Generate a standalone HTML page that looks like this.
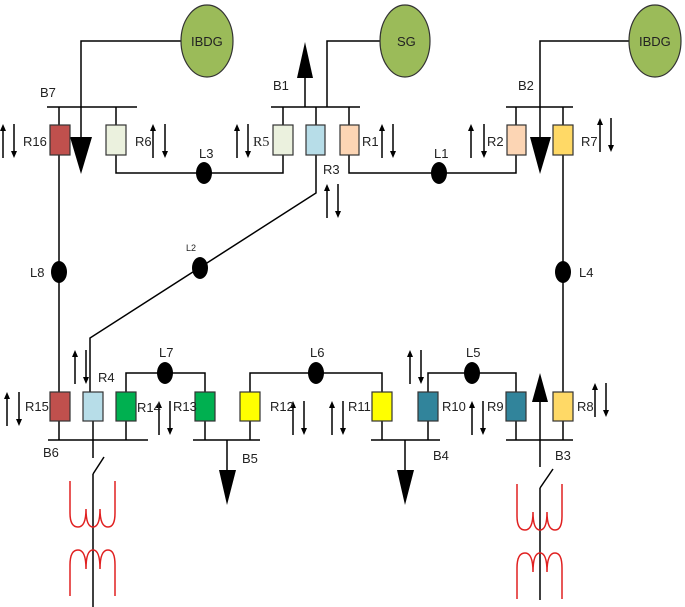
<!DOCTYPE html>
<html><head><meta charset="utf-8"><style>
html,body{margin:0;padding:0;background:#fff;}
svg{display:block;}
text{font-family:"Liberation Sans",sans-serif;font-size:13px;fill:#222;}
</style></head><body>
<svg width="685" height="607" viewBox="0 0 685 607" xmlns="http://www.w3.org/2000/svg">
<defs>
<g id="up"><line x1="0" y1="6" x2="0" y2="34" stroke="#000" stroke-width="1.5"/><polygon points="-3,7 3,7 0,0" fill="#000"/></g>
<g id="dn"><line x1="0" y1="0" x2="0" y2="28" stroke="#000" stroke-width="1.5"/><polygon points="-3,27 3,27 0,34" fill="#000"/></g>
<g id="coil" fill="none" stroke="#e02020" stroke-width="1.5">
<path d="M-23,0 V32 Q-23,46 -15,46 Q-7,46 -7,28 Q-7,46 0,46 Q7,46 7,28 Q7,46 15,46 Q22,46 22,32 V0"/>
<path d="M-23,115 V84 Q-23,69 -15,69 Q-7,69 -7,88 Q-7,69 0,69 Q7,69 7,88 Q7,69 15,69 Q22,69 22,84 V115"/>
</g>
</defs>
<g stroke="#000" stroke-width="1.5" fill="none">
<!-- top buses -->
<line x1="47" y1="107" x2="137" y2="107"/>
<line x1="271" y1="107" x2="360" y2="107"/>
<line x1="506" y1="107" x2="573" y2="107"/>
<!-- gen lines -->
<polyline points="181,41 81,41 81,140"/>
<polyline points="380,41 327,41 327,107"/>
<polyline points="629,41 540,41 540,140"/>
<line x1="305" y1="107" x2="305" y2="72"/>
<!-- stems top -->
<line x1="59" y1="107" x2="59" y2="392"/>
<line x1="116" y1="107" x2="116" y2="125"/>
<line x1="283" y1="107" x2="283" y2="125"/>
<line x1="316" y1="107" x2="316" y2="125"/>
<line x1="349" y1="107" x2="349" y2="125"/>
<line x1="516" y1="107" x2="516" y2="125"/>
<line x1="563" y1="107" x2="563" y2="392"/>
<polyline points="116,155 116,173 283,173 283,155"/>
<polyline points="349,155 349,173 516,173 516,155"/>
<polyline points="316,155 316,193 90,338 90,392"/>
<!-- bottom buses -->
<line x1="48" y1="440" x2="148" y2="440"/>
<line x1="193" y1="440" x2="260" y2="440"/>
<line x1="371" y1="440" x2="440" y2="440"/>
<line x1="506" y1="440" x2="573" y2="440"/>
<line x1="59" y1="421" x2="59" y2="440"/>
<line x1="93" y1="421" x2="93" y2="458"/>
<line x1="126" y1="421" x2="126" y2="440"/>
<line x1="205" y1="421" x2="205" y2="440"/>
<line x1="250" y1="421" x2="250" y2="440"/>
<line x1="382" y1="421" x2="382" y2="440"/>
<line x1="428" y1="421" x2="428" y2="440"/>
<line x1="516" y1="421" x2="516" y2="440"/>
<line x1="563" y1="421" x2="563" y2="440"/>
<polyline points="126,392 126,373 205,373 205,392"/>
<polyline points="250,392 250,373 382,373 382,392"/>
<polyline points="428,392 428,373 516,373 516,392"/>
<line x1="227" y1="440" x2="227" y2="475"/>
<line x1="405" y1="440" x2="405" y2="475"/>
<line x1="540" y1="467" x2="540" y2="400"/>
<!-- switches -->
<line x1="93" y1="474" x2="104" y2="457"/>
<line x1="93" y1="474" x2="93" y2="607"/>
<line x1="540" y1="488" x2="553" y2="469"/>
<line x1="540" y1="488" x2="540" y2="600"/>
</g>
<!-- arrowheads -->
<polygon points="70,137 92,137 81,174" fill="#000"/>
<polygon points="530,137 551,137 540,174" fill="#000"/>
<polygon points="297,78 313,78 305,42" fill="#000"/>
<polygon points="219,470 236,470 227,505" fill="#000"/>
<polygon points="397,470 414,470 405,505" fill="#000"/>
<polygon points="532,402 548,402 540,373" fill="#000"/>
<!-- generators -->
<g fill="#9bbb59" stroke="#333" stroke-width="1.2">
<ellipse cx="207" cy="41" rx="26" ry="36"/>
<ellipse cx="405" cy="41" rx="25" ry="36"/>
<ellipse cx="655" cy="41" rx="26" ry="36"/>
</g>
<text x="191" y="46" style="font-size:13px">IBDG</text>
<text x="397" y="46">SG</text>
<text x="639" y="46">IBDG</text>
<!-- relay boxes -->
<g stroke="#333" stroke-width="1.2">
<rect x="50" y="125" width="20" height="30" fill="#c0504d"/>
<rect x="106" y="125" width="20" height="30" fill="#ebf1de"/>
<rect x="273" y="125" width="20" height="30" fill="#ebf1de"/>
<rect x="306" y="125" width="19" height="30" fill="#b7dde8"/>
<rect x="340" y="125" width="19" height="30" fill="#fcd5b4"/>
<rect x="507" y="125" width="19" height="30" fill="#fcd5b4"/>
<rect x="553" y="125" width="20" height="30" fill="#ffd966"/>
<rect x="50" y="392" width="20" height="29" fill="#c0504d"/>
<rect x="83" y="392" width="20" height="29" fill="#b7dde8"/>
<rect x="116" y="392" width="20" height="29" fill="#00b050"/>
<rect x="195" y="392" width="20" height="29" fill="#00b050"/>
<rect x="240" y="392" width="20" height="29" fill="#ffff00"/>
<rect x="372" y="392" width="20" height="29" fill="#ffff00"/>
<rect x="418" y="392" width="20" height="29" fill="#31849b"/>
<rect x="506" y="392" width="20" height="29" fill="#31849b"/>
<rect x="553" y="392" width="20" height="29" fill="#ffd966"/>
</g>
<!-- line dots -->
<g fill="#000">
<ellipse cx="204" cy="173" rx="8" ry="11"/>
<ellipse cx="439" cy="173" rx="8" ry="11"/>
<ellipse cx="59" cy="272" rx="8" ry="11"/>
<ellipse cx="563" cy="272" rx="8" ry="11"/>
<ellipse cx="200" cy="268" rx="8" ry="11"/>
<ellipse cx="165" cy="373" rx="8" ry="11"/>
<ellipse cx="316" cy="373" rx="8" ry="11"/>
<ellipse cx="472" cy="373" rx="8" ry="11"/>
</g>
<!-- transformers -->
<use href="#coil" x="93" y="481"/>
<use href="#coil" x="540" y="484"/>
<!-- direction arrows -->
<use href="#up" x="3" y="124"/><use href="#dn" x="14" y="124"/>
<use href="#up" x="153" y="124"/><use href="#dn" x="165" y="124"/>
<use href="#up" x="237" y="124"/><use href="#dn" x="248" y="124"/>
<use href="#up" x="382" y="124"/><use href="#dn" x="393" y="124"/>
<use href="#up" x="471" y="124"/><use href="#dn" x="484" y="124"/>
<use href="#up" x="600" y="118"/><use href="#dn" x="611" y="118"/>
<use href="#up" x="327" y="184"/><use href="#dn" x="338" y="184"/>
<use href="#up" x="75" y="350"/><use href="#dn" x="86" y="350"/>
<use href="#up" x="410" y="350"/><use href="#dn" x="421" y="350"/>
<use href="#up" x="7" y="392"/><use href="#dn" x="19" y="392"/>
<use href="#up" x="159" y="401"/><use href="#dn" x="170" y="401"/>
<use href="#up" x="293" y="401"/><use href="#dn" x="304" y="401"/>
<use href="#up" x="332" y="401"/><use href="#dn" x="343" y="401"/>
<use href="#up" x="472" y="401"/><use href="#dn" x="483" y="401"/>
<use href="#up" x="595" y="383"/><use href="#dn" x="606" y="383"/>
<!-- labels -->
<text x="40" y="97">B7</text>
<text x="273" y="90">B1</text>
<text x="518" y="90">B2</text>
<text x="23" y="146">R16</text>
<text x="135" y="146">R6</text>
<text x="253" y="146" style="font-family:'Liberation Serif',serif;font-size:14px">R5</text>
<text x="362" y="146">R1</text>
<text x="487" y="146">R2</text>
<text x="581" y="146">R7</text>
<text x="199" y="158">L3</text>
<text x="434" y="158">L1</text>
<text x="323" y="174">R3</text>
<text x="186" y="251" style="font-size:9px">L2</text>
<text x="30" y="277">L8</text>
<text x="579" y="277">L4</text>
<text x="98" y="382">R4</text>
<text x="159" y="357">L7</text>
<text x="310" y="357">L6</text>
<text x="466" y="357">L5</text>
<text x="25" y="411">R15</text>
<text x="137" y="412">R14</text>
<text x="173" y="411">R13</text>
<text x="270" y="411">R12</text>
<text x="348" y="411">R11</text>
<text x="442" y="411">R10</text>
<text x="487" y="411">R9</text>
<text x="577" y="411">R8</text>
<text x="43" y="457">B6</text>
<text x="242" y="463">B5</text>
<text x="433" y="460">B4</text>
<text x="555" y="460">B3</text>
</svg>
</body></html>
